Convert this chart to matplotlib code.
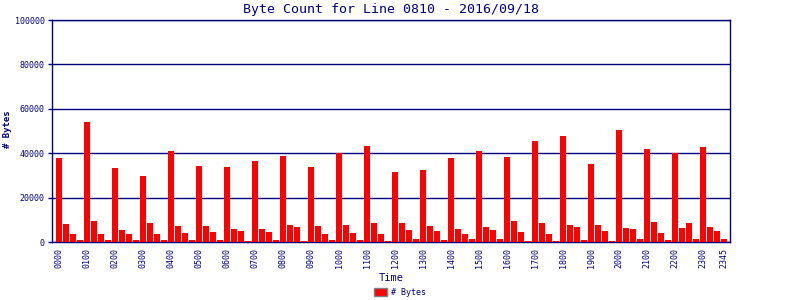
"""Byte count bar chart for one line, 15-minute buckets."""

import matplotlib
matplotlib.use('Agg')
import matplotlib.pyplot as plt
from matplotlib.patches import Patch

NAVY = '#000080'

# one value every 15 minutes, 96 buckets
byte_counts = [
    37800, 8100, 3600, 900, 54000, 9500, 3600, 900,
    33300, 5400, 3600, 900, 29700, 8600, 3600, 900,
    41000, 7200, 4000, 900, 34200, 7200, 4500, 900,
    33800, 5900, 5000, 450, 36500, 5900, 4500, 900,
    38700, 7700, 6800, 450, 33800, 7200, 3600, 900,
    40100, 7700, 4000, 900, 43200, 8600, 3600, 450,
    31500, 8600, 5400, 1400, 32400, 7200, 5000, 900,
    37800, 5900, 3600, 1400, 41000, 6800, 5400, 1400,
    38300, 9500, 4500, 450, 45500, 8600, 3600, 450,
    47700, 7700, 6800, 900, 35100, 7700, 5000, 450,
    50500, 6300, 5900, 1400, 41900, 9000, 4000, 900,
    40100, 6300, 8600, 1400, 42800, 6800, 5000, 1400,
]
time_labels = ['%02d%02d' % (h, m) for h in range(24) for m in (0, 15, 30, 45)]
tick_labels = [t for t in time_labels if t.endswith('00')] + ['2345']
y_ticks = [0, 20000, 40000, 60000, 80000, 100000]

fig = plt.figure(figsize=(8, 3), dpi=100)
ax = fig.add_axes([0.0646, 0.1933, 0.8479, 0.74])

x = list(range(len(byte_counts)))
ax.bar(x, byte_counts, width=0.86, color='#ff0000', zorder=3)

ax.set_xlim(-1.05, 95.85)
ax.set_ylim(0, 100000)
ax.set_yticks(y_ticks)
ax.set_yticklabels([str(v) for v in y_ticks], family='DejaVu Sans Mono',
                   fontsize=6, color=NAVY)
ax.yaxis.grid(True, color=NAVY, linewidth=1.0, zorder=1)

tick_pos = [time_labels.index(t) for t in tick_labels]
ax.set_xticks(tick_pos)
ax.set_xticklabels(tick_labels, rotation=90, family='DejaVu Sans Mono',
                   fontsize=6, color=NAVY)
ax.tick_params(axis='x', length=0, pad=4)
ax.tick_params(axis='y', length=3, width=1.0, color=NAVY, pad=2)

for sp in ax.spines.values():
    sp.set_color(NAVY)
    sp.set_linewidth(1.0)

ax.set_title('Byte Count for Line 0810 - 2016/09/18', family='DejaVu Sans Mono',
             fontsize=9.5, color=NAVY, pad=5)
ax.set_xlabel('Time', family='DejaVu Sans Mono', fontsize=7.5, color=NAVY)
ax.xaxis.set_label_coords(0.5, -0.14)
ax.set_ylabel('# Bytes', family='DejaVu Sans Mono', fontsize=6.5, color=NAVY,
              fontweight='bold')
ax.yaxis.set_label_coords(-0.058, 0.51)

handles = [Patch(facecolor='#ff0000', edgecolor='#808080', linewidth=1.0,
                 label='# Bytes')]
fig.legend(handles=handles, loc='lower center', bbox_to_anchor=(0.5, -0.015),
           frameon=False, prop={'family': 'DejaVu Sans Mono', 'size': 6},
           handlelength=1.6, handleheight=1.0, handletextpad=0.4,
           labelcolor=NAVY)

fig.savefig('out.png', dpi=100)
